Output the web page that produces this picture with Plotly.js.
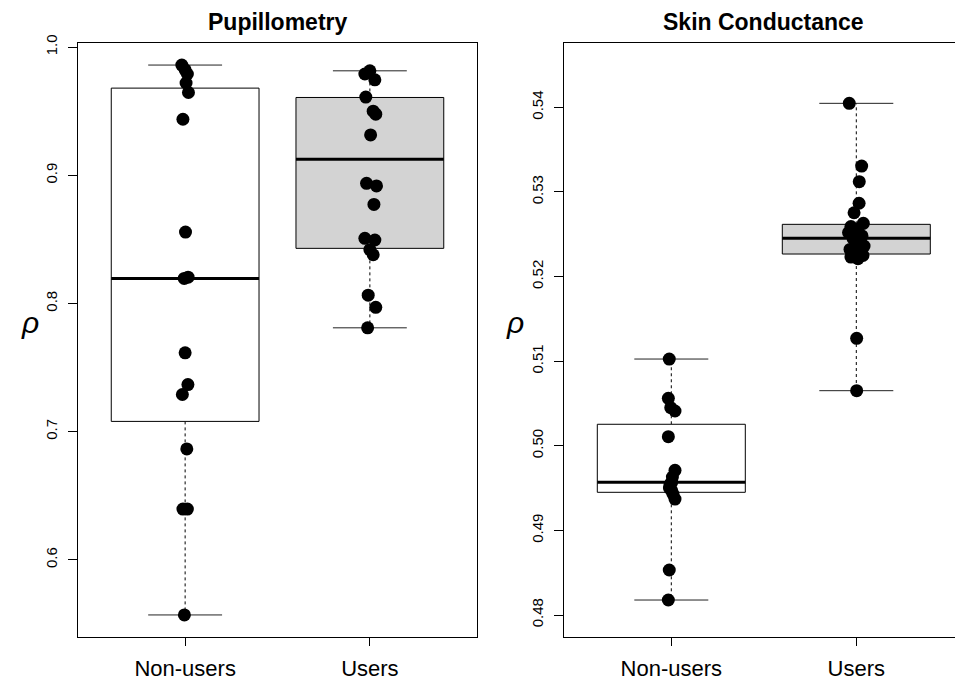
<!DOCTYPE html>
<html>
<head>
<meta charset="utf-8">
<script src="https://cdn.plot.ly/plotly-3.0.1.min.js"></script>
<style>
  html, body { margin: 0; padding: 0; background: #ffffff; overflow: hidden; }
  #chart { width: 955px; height: 682px; }
</style>
</head>
<body>
<div id="chart"></div>
<script>
// ---------------- DATA ----------------
const groupLabels = ["Non-users", "Users"];
const groupPos = [1, 2];

// Pupillometry: individual rho values and jitter offsets (x units)
const pupNonUsers = [0.986, 0.9823, 0.979, 0.972, 0.9646, 0.9437, 0.8557, 0.8205, 0.8195, 0.7615, 0.7367, 0.729, 0.6865, 0.6396, 0.6396, 0.557];
const pupNonUsersJit = [-0.018, 0.0, 0.012, 0.005, 0.018, -0.012, 0.002, 0.016, -0.005, 0.0, 0.015, -0.015, 0.009, -0.012, 0.012, -0.004];
const pupUsers = [0.9815, 0.979, 0.9745, 0.961, 0.950, 0.9477, 0.9315, 0.8937, 0.8917, 0.8773, 0.8508, 0.8495, 0.842, 0.838, 0.8065, 0.797, 0.781];
const pupUsersJit = [0.0, -0.027, 0.027, -0.022, 0.018, 0.032, 0.004, -0.018, 0.036, 0.022, -0.027, 0.027, 0.0, 0.018, -0.009, 0.032, -0.012];

// Pupillometry box statistics [Non-users, Users]
const pupLo  = [0.557, 0.781];
const pupQ1  = [0.708, 0.843];
const pupMed = [0.8195, 0.9125];
const pupQ3  = [0.968, 0.9607];
const pupHi  = [0.986, 0.9815];

// Skin conductance: individual rho values and jitter offsets
const skinNonUsers = [0.51025, 0.50561, 0.5045, 0.50411, 0.50107, 0.4971, 0.4963, 0.4957, 0.4954, 0.495, 0.4947, 0.4943, 0.4937, 0.48532, 0.48177];
const skinNonUsersJit = [-0.011, -0.016, -0.003, 0.02, -0.016, 0.02, 0.006, 0.002, -0.007, -0.01, 0.002, 0.009, 0.02, -0.011, -0.016];
const skinUsers = [0.54047, 0.53306, 0.53121, 0.52866, 0.52754, 0.52629, 0.5259, 0.5256, 0.5252, 0.5248, 0.52452, 0.5241, 0.5236, 0.5232, 0.5229, 0.52266, 0.5225, 0.5223, 0.5221, 0.5127, 0.50651];
const skinUsersJit = [-0.038, 0.029, 0.016, 0.015, -0.012, 0.038, -0.029, 0.009, -0.042, 0.031, -0.018, 0.004, 0.042, -0.034, 0.02, -0.007, 0.036, -0.029, 0.009, 0.002, 0.002];

// Skin conductance box statistics [Non-users, Users]
const skinLo  = [0.48177, 0.50651];
const skinQ1  = [0.4945, 0.52266];
const skinMed = [0.49568, 0.52452];
const skinQ3  = [0.50254, 0.52617];
const skinHi  = [0.51025, 0.54047];

const pupTicks  = [0.6, 0.7, 0.8, 0.9, 1.0];
const pupTickText = ["0.6", "0.7", "0.8", "0.9", "1.0"];
const skinTicks = [0.48, 0.49, 0.50, 0.51, 0.52, 0.53, 0.54];
const skinTickText = ["0.48", "0.49", "0.50", "0.51", "0.52", "0.53", "0.54"];

// ---------------- STYLE ----------------
const FONT = "Liberation Sans, Arial, Helvetica, sans-serif";
const boxFill = ["#ffffff", "#d3d3d3"];
const HALF = 0.4;    // half box width (x units)
const CAP = 0.2;     // half cap width

function panelTraces(xa, ya, lo, q1, med, q3, hi, ptsList, jitList) {
  const traces = [];
  for (let g = 0; g < 2; g++) {
    const x = groupPos[g];
    traces.push({
      type: "scatter", mode: "lines", xaxis: xa, yaxis: ya, hoverinfo: "skip", showlegend: false,
      x: [x, x, null, x, x], y: [q3[g], hi[g], null, q1[g], lo[g]],
      line: { color: "#000000", width: 1, dash: "3px,3px" }
    });
  }
  for (let g = 0; g < 2; g++) {
    const x = groupPos[g];
    traces.push({
      type: "scatter", mode: "lines", xaxis: xa, yaxis: ya, hoverinfo: "skip", showlegend: false,
      x: [x - HALF, x + HALF, x + HALF, x - HALF, x - HALF],
      y: [q1[g], q1[g], q3[g], q3[g], q1[g]],
      fill: "toself", fillcolor: boxFill[g],
      line: { color: "#000000", width: 1 }
    });
    traces.push({
      type: "scatter", mode: "lines", xaxis: xa, yaxis: ya, hoverinfo: "skip", showlegend: false,
      x: [x - HALF, x + HALF], y: [med[g], med[g]],
      line: { color: "#000000", width: 3 }
    });
    traces.push({
      type: "scatter", mode: "lines", xaxis: xa, yaxis: ya, hoverinfo: "skip", showlegend: false,
      x: [x - CAP, x + CAP, null, x - CAP, x + CAP], y: [hi[g], hi[g], null, lo[g], lo[g]],
      line: { color: "#222222", width: 1 }
    });
  }
  for (let g = 0; g < 2; g++) {
    const pts = ptsList[g], jit = jitList[g];
    traces.push({
      type: "scatter", mode: "markers", xaxis: xa, yaxis: ya, hoverinfo: "skip", showlegend: false,
      x: pts.map((v, i) => groupPos[g] + jit[i]), y: pts,
      marker: { color: "#000000", size: 13, line: { width: 0 } }
    });
  }
  return traces;
}

const data = [].concat(
  panelTraces("x", "y", pupLo, pupQ1, pupMed, pupQ3, pupHi, [pupNonUsers, pupUsers], [pupNonUsersJit, pupUsersJit]),
  panelTraces("x2", "y2", skinLo, skinQ1, skinMed, skinQ3, skinHi, [skinNonUsers, skinUsers], [skinNonUsersJit, skinUsersJit])
);

const W = 955, H = 682;
const plotTop = 43, plotBottom = 637;
const unitPx = 185;

function xAxis(domain, range, anchor) {
  return {
    domain: domain, range: range, anchor: anchor, showgrid: false, zeroline: false,
    showline: true, linecolor: "#000000", linewidth: 1, mirror: true,
    ticks: "outside", ticklen: 8, tickwidth: 1, tickcolor: "#000000",
    tickvals: groupPos, ticktext: groupLabels,
    tickfont: { family: FONT, size: 22, color: "#000000" },
    ticklabelstandoff: 4, fixedrange: true
  };
}
function yAxis(range, tv, tt, anchor, mirror) {
  return {
    domain: [1 - plotBottom / H, 1 - plotTop / H], range: range, anchor: anchor,
    showgrid: false, zeroline: false,
    showline: true, linecolor: "#000000", linewidth: 1, mirror: mirror,
    ticks: "outside", ticklen: 9, tickwidth: 1, tickcolor: "#000000",
    tickvals: tv, ticktext: tt, tickangle: -90,
    tickfont: { family: FONT, size: 15, color: "#000000" },
    ticklabelstandoff: 5, fixedrange: true
  };
}

const rightStart = 564;
const layout = {
  width: W, height: H,
  margin: { l: 0, r: 0, t: 0, b: 0, pad: 0 },
  paper_bgcolor: "#ffffff", plot_bgcolor: "rgba(0,0,0,0)",
  showlegend: false,
  font: { family: FONT, color: "#000000" },
  xaxis: xAxis([78 / W, 477 / W], [0.42, 2.58], "y"),
  yaxis: yAxis([0.5398, 1.0032], pupTicks, pupTickText, "x", true),
  xaxis2: xAxis([rightStart / W, 1], [0.42, 0.42 + (W - rightStart) / unitPx], "y2"),
  yaxis2: yAxis([0.4774, 0.5476], skinTicks, skinTickText, "x2", false),
  annotations: [
    { text: "<b>Pupillometry</b>", xref: "paper", yref: "paper", x: 277.5 / W, y: 1 - 22 / H,
      xanchor: "center", yanchor: "middle", showarrow: false, font: { family: FONT, size: 23, color: "#000000" } },
    { text: "<b>Skin Conductance</b>", xref: "paper", yref: "paper", x: 763.5 / W, y: 1 - 22 / H,
      xanchor: "center", yanchor: "middle", showarrow: false, font: { family: FONT, size: 23, color: "#000000" } },
    { text: "<i>ρ</i>", xref: "paper", yref: "paper", x: 30 / W, y: 1 - 322 / H,
      xanchor: "center", yanchor: "middle", showarrow: false, font: { family: FONT, size: 30, color: "#000000" } },
    { text: "<i>ρ</i>", xref: "paper", yref: "paper", x: 515 / W, y: 1 - 322 / H,
      xanchor: "center", yanchor: "middle", showarrow: false, font: { family: FONT, size: 30, color: "#000000" } }
  ]
};

Plotly.newPlot("chart", data, layout, { displayModeBar: false, staticPlot: true });
</script>
</body>
</html>
